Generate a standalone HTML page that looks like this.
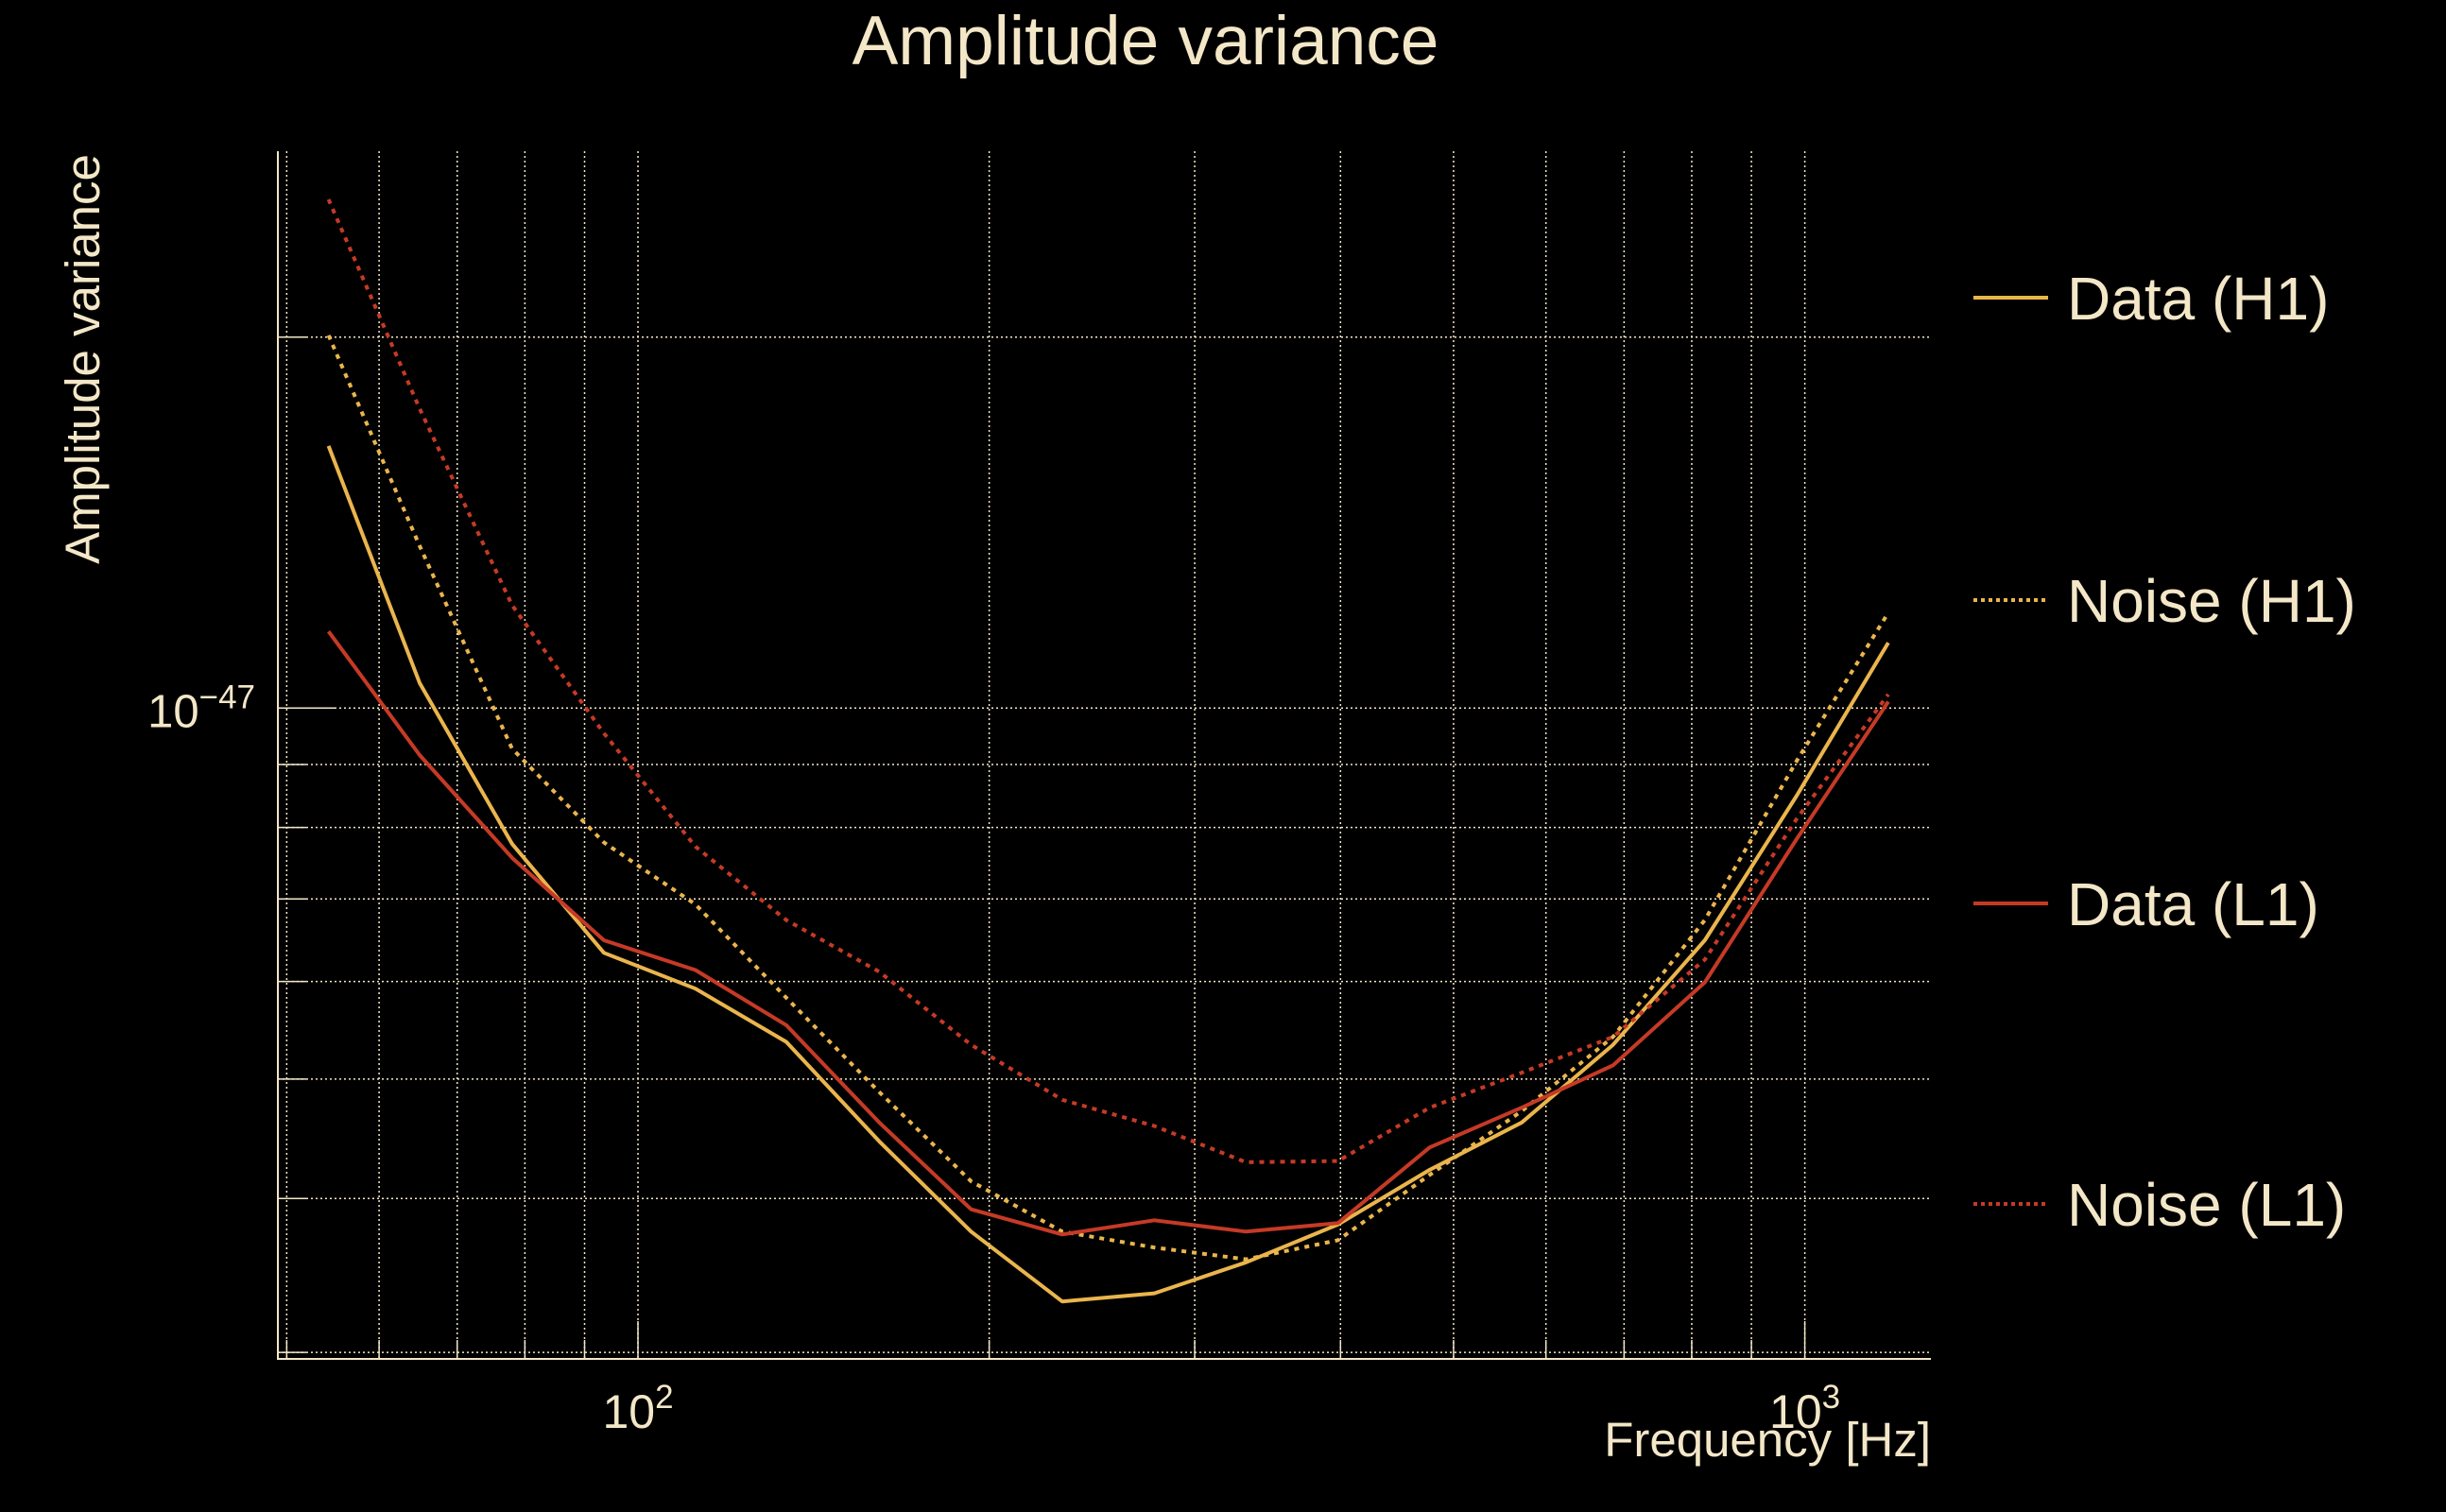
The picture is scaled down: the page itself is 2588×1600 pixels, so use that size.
<!DOCTYPE html>
<html><head><meta charset="utf-8"><style>
html,body{margin:0;padding:0;background:#000;}
svg{display:block;font-family:"Liberation Sans",sans-serif;}
</style></head><body>
<svg id="chart" width="2588" height="1600" viewBox="0 0 2588 1600" xmlns="http://www.w3.org/2000/svg">
<rect width="2588" height="1600" fill="#000"/>
<text x="1212" y="68" fill="#f3e7c8" font-size="73" text-anchor="middle">Amplitude variance</text>
<text transform="translate(105,380) rotate(-90)" fill="#f3e7c8" font-size="51" text-anchor="middle">Amplitude variance</text>
<text x="2043" y="1541" fill="#f3e7c8" font-size="51" text-anchor="end">Frequency [Hz]</text>
<g id="grid"></g>
<g id="series"></g>
<g id="legend"></g>
</svg>
<script>
const freqs = [54.3,65,78,93.5,112,134,161,193,231,277,332,398,477,572,685,821,984,1179];
const dataH1 = [1.632,1.048,0.776,0.633,0.592,0.536,0.445,0.376,0.330,0.335,0.355,0.381,0.422,0.461,0.533,0.648,0.849,1.130];
const noiseH1 = [2.007,1.354,0.927,0.778,0.693,0.582,0.488,0.413,0.376,0.365,0.357,0.370,0.418,0.471,0.541,0.673,0.906,1.195];
const dataL1 = [1.154,0.916,0.756,0.648,0.613,0.553,0.461,0.392,0.374,0.384,0.376,0.382,0.440,0.474,0.513,0.599,0.783,1.012];
const noiseL1 = [2.587,1.750,1.212,0.954,0.772,0.673,0.611,0.533,0.481,0.458,0.428,0.429,0.474,0.506,0.541,0.625,0.813,1.026];
const xMinorTicks = [50,60,70,80,90,100,200,300,400,500,600,700,800,900,1000];
const yGridVals = [2,0.9,0.8,0.7,0.6,0.5,0.4,0.3];
const xTickLabels = [{v:100,e:"2"},{v:1000,e:"3"}];
const legendLabels = ["Data (H1)","Noise (H1)","Data (L1)","Noise (L1)"];

const L=294,R=2043,T=160,B=1438;
const X = f => 675 + 1234.6*(Math.log10(f)-2);
const Y = v => 749.3 - 1304*Math.log10(v); // v in units of 1e-47
const NS="http://www.w3.org/2000/svg";
const cream="#f3e7c8";
function mk(tag,attrs,parent){const e=document.createElementNS(NS,tag);for(const k in attrs)e.setAttribute(k,attrs[k]);parent.appendChild(e);return e;}
const grid=document.getElementById('grid');
xMinorTicks.forEach(f=>{
  const x=X(f);
  const g=mk('line',{x1:x,x2:x,y1:T,y2:B,stroke:cream,'stroke-width':1.5,'stroke-dasharray':'2 3'},grid);
  
  
  const t=mk('line',{x1:x,x2:x,y1:B,y2:B-((f===100||f===1000)?40:20),stroke:cream,'stroke-width':1.5},grid);
  
  
});
[1].concat(yGridVals).forEach(v=>{
  const y=Y(v);
  const g=mk('line',{x1:L,x2:R,y1:y,y2:y,stroke:cream,'stroke-width':1.5,'stroke-dasharray':'2 3'},grid);
  
  
  const t=mk('line',{x1:L,x2:L+(v===1?60:30),y1:y,y2:y,stroke:cream,'stroke-width':1.5},grid);
  
  
});
const ax=mk('path',{d:`M${L},${T} L${L},${B} L${R},${B}`,fill:'none',stroke:cream,'stroke-width':2},grid);


xTickLabels.forEach(o=>{
  const t=mk('text',{x:X(o.v),y:1511,fill:cream,'font-size':50,'text-anchor':'middle'},grid);
  
  
  t.innerHTML='10<tspan dy="-21" font-size="35">'+o.e+'</tspan>';
});
const yl=mk('text',{x:270,y:Y(1)+20,fill:cream,'font-size':49,'text-anchor':'end'},grid);


yl.innerHTML='10<tspan dy="-20" font-size="35">\u221247</tspan>';

const series=[
 {vals:dataH1,color:'#eab54c',dash:null,name:'data-h1-line'},
 {vals:noiseH1,color:'#eab54c',dash:'5 6',name:'noise-h1-line'},
 {vals:dataL1,color:'#c53a26',dash:null,name:'data-l1-line'},
 {vals:noiseL1,color:'#c53a26',dash:'5 6',name:'noise-l1-line'}];
const sg=document.getElementById('series');
series.forEach(s=>{
  const d=s.vals.map((v,i)=>(i?'L':'M')+X(freqs[i]).toFixed(1)+','+Y(v).toFixed(1)).join(' ');
  const a={d:d,fill:'none',stroke:s.color,'stroke-width':4,'stroke-linejoin':'round'};
  if(s.dash)a['stroke-dasharray']=s.dash;
  const p=mk('path',a,sg);
  
  
});
const lg=document.getElementById('legend');
const ly=[315,635,956,1274];
series.forEach((s,i)=>{
  const a={x1:2088,x2:2167,y1:ly[i],y2:ly[i],stroke:s.color,'stroke-width':4};
  if(s.dash)a['stroke-dasharray']='4 4';
  const l=mk('line',a,lg);
  
  
  const t=mk('text',{x:2187,y:ly[i]+23,fill:cream,'font-size':64},lg);
  
  
  t.textContent=legendLabels[i];
});
</script>
</body></html>
